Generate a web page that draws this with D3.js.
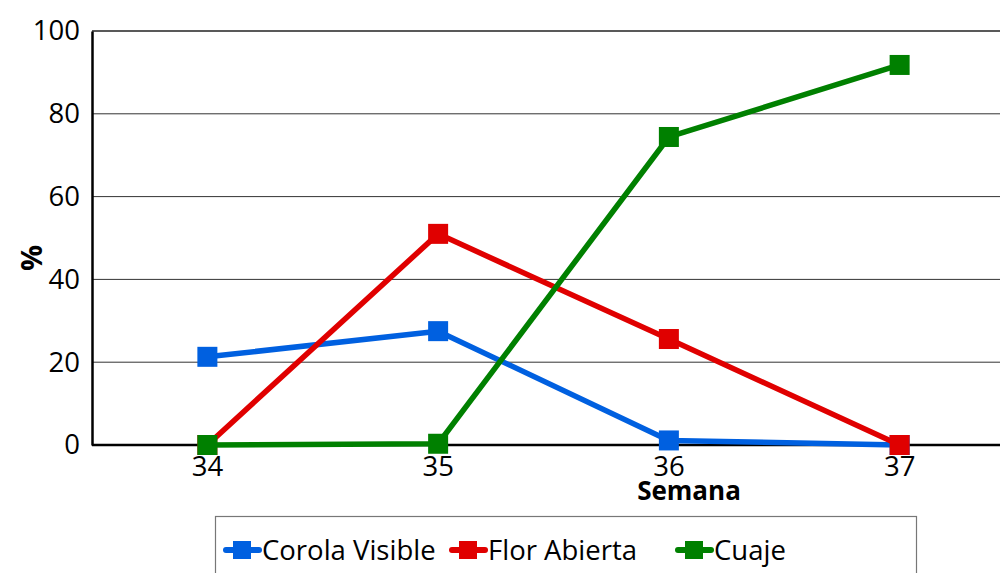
<html>
<head>
<script src="https://d3js.org/d3.v7.min.js"></script>
<style>
  body { margin: 0; background: #fff; }
  text { font-family: "Open Sans", sans-serif; }
</style>
</head>
<body>
<script>
    var weeks = ["34", "35", "36", "37"];
    var yTicks = [0, 20, 40, 60, 80, 100];
    var corola = [21.3, 27.5, 1.1, 0];
    var flor = [0, 51, 25.6, 0];
    var cuaje = [0, 0.3, 74.4, 91.8];
    var seriesNames = ["Corola Visible", "Flor Abierta", "Cuaje"];
    var colors = ["#0060e0", "#e00000", "#008000"];

    var series = [corola, flor, cuaje].map(function (vals, i) {
        return {name: seriesNames[i], color: colors[i], values: vals};
    });

    var svg = d3.select("body").append("svg")
        .attr("width", 1000)
        .attr("height", 573);

    var x = d3.scaleBand().domain(weeks).range([92, 1015]);
    var y = d3.scaleLinear().domain([0, 100]).range([445, 31]);

    // gridlines
    svg.append("g").selectAll("line")
        .data(yTicks.filter(function (d) { return d > 0; }))
        .enter().append("line")
        .attr("x1", 92).attr("x2", 1000)
        .attr("y1", function (d) { return y(d); })
        .attr("y2", function (d) { return y(d); })
        .attr("stroke", function (d) { return d === 100 ? "#222" : "#333"; })
        .attr("stroke-width", function (d) { return d === 100 ? 1.5 : 1; });

    // y axis
    var yAxis = svg.append("g")
        .attr("transform", "translate(92,0)")
        .call(d3.axisLeft(y).tickValues(yTicks).tickSize(0).tickPadding(12));
    yAxis.select(".domain").attr("stroke", "#000").attr("stroke-width", 2.5);
    yAxis.selectAll("text").attr("font-size", 27.5).attr("fill", "#000")
        .attr("font-family", "Open Sans, sans-serif");

    // x axis
    var xAxis = svg.append("g")
        .attr("transform", "translate(0,445)")
        .call(d3.axisBottom(x).tickSize(0).tickPadding(11));
    xAxis.select(".domain").attr("d", "M92,0H1000").attr("stroke", "#000").attr("stroke-width", 2.5);
    xAxis.selectAll("text").attr("font-size", 27.5).attr("fill", "#000")
        .attr("font-family", "Open Sans, sans-serif");

    // axis titles
    svg.append("text")
        .attr("x", 689).attr("y", 500)
        .attr("text-anchor", "middle")
        .attr("font-size", 26).attr("font-weight", "bold")
        .text("Semana");

    svg.append("text")
        .attr("transform", "translate(42,258) rotate(-90)")
        .attr("text-anchor", "middle")
        .attr("font-size", 29).attr("font-weight", "bold")
        .text("%");

    var line = d3.line()
        .x(function (d, i) { return x(weeks[i]) + x.bandwidth() / 2; })
        .y(function (d) { return y(d); });

    var g = svg.append("g").selectAll("g").data(series).enter().append("g");

    g.append("path")
        .attr("d", function (d) { return line(d.values); })
        .attr("fill", "none")
        .attr("stroke", function (d) { return d.color; })
        .attr("stroke-width", 5.5)
        .attr("stroke-linejoin", "round");

    g.selectAll("rect")
        .data(function (d) { return d.values.map(function (v, i) { return {v: v, i: i, color: d.color}; }); })
        .enter().append("rect")
        .attr("x", function (d) { return x(weeks[d.i]) + x.bandwidth() / 2 - 10; })
        .attr("y", function (d) { return y(d.v) - 10; })
        .attr("width", 20).attr("height", 20)
        .attr("fill", function (d) { return d.color; });

    // legend
    var legend = svg.append("g");
    legend.append("rect")
        .attr("x", 215.5).attr("y", 516.5)
        .attr("width", 701).attr("height", 80)
        .attr("fill", "#fff").attr("stroke", "#777").attr("stroke-width", 1.2);

    var legendX = [224, 450, 676];
    var item = legend.selectAll(".item").data(series).enter().append("g")
        .attr("transform", function (d, i) { return "translate(" + legendX[i] + ",550)"; });
    item.append("line")
        .attr("x1", 2).attr("x2", 35)
        .attr("stroke", function (d) { return d.color; })
        .attr("stroke-width", 6).attr("stroke-linecap", "round");
    item.append("rect")
        .attr("x", 9).attr("y", -9).attr("width", 18).attr("height", 18)
        .attr("fill", function (d) { return d.color; });
    item.append("text")
        .attr("x", 38).attr("y", 10)
        .attr("font-size", 27.5)
        .text(function (d) { return d.name; });
</script>
</body>
</html>
